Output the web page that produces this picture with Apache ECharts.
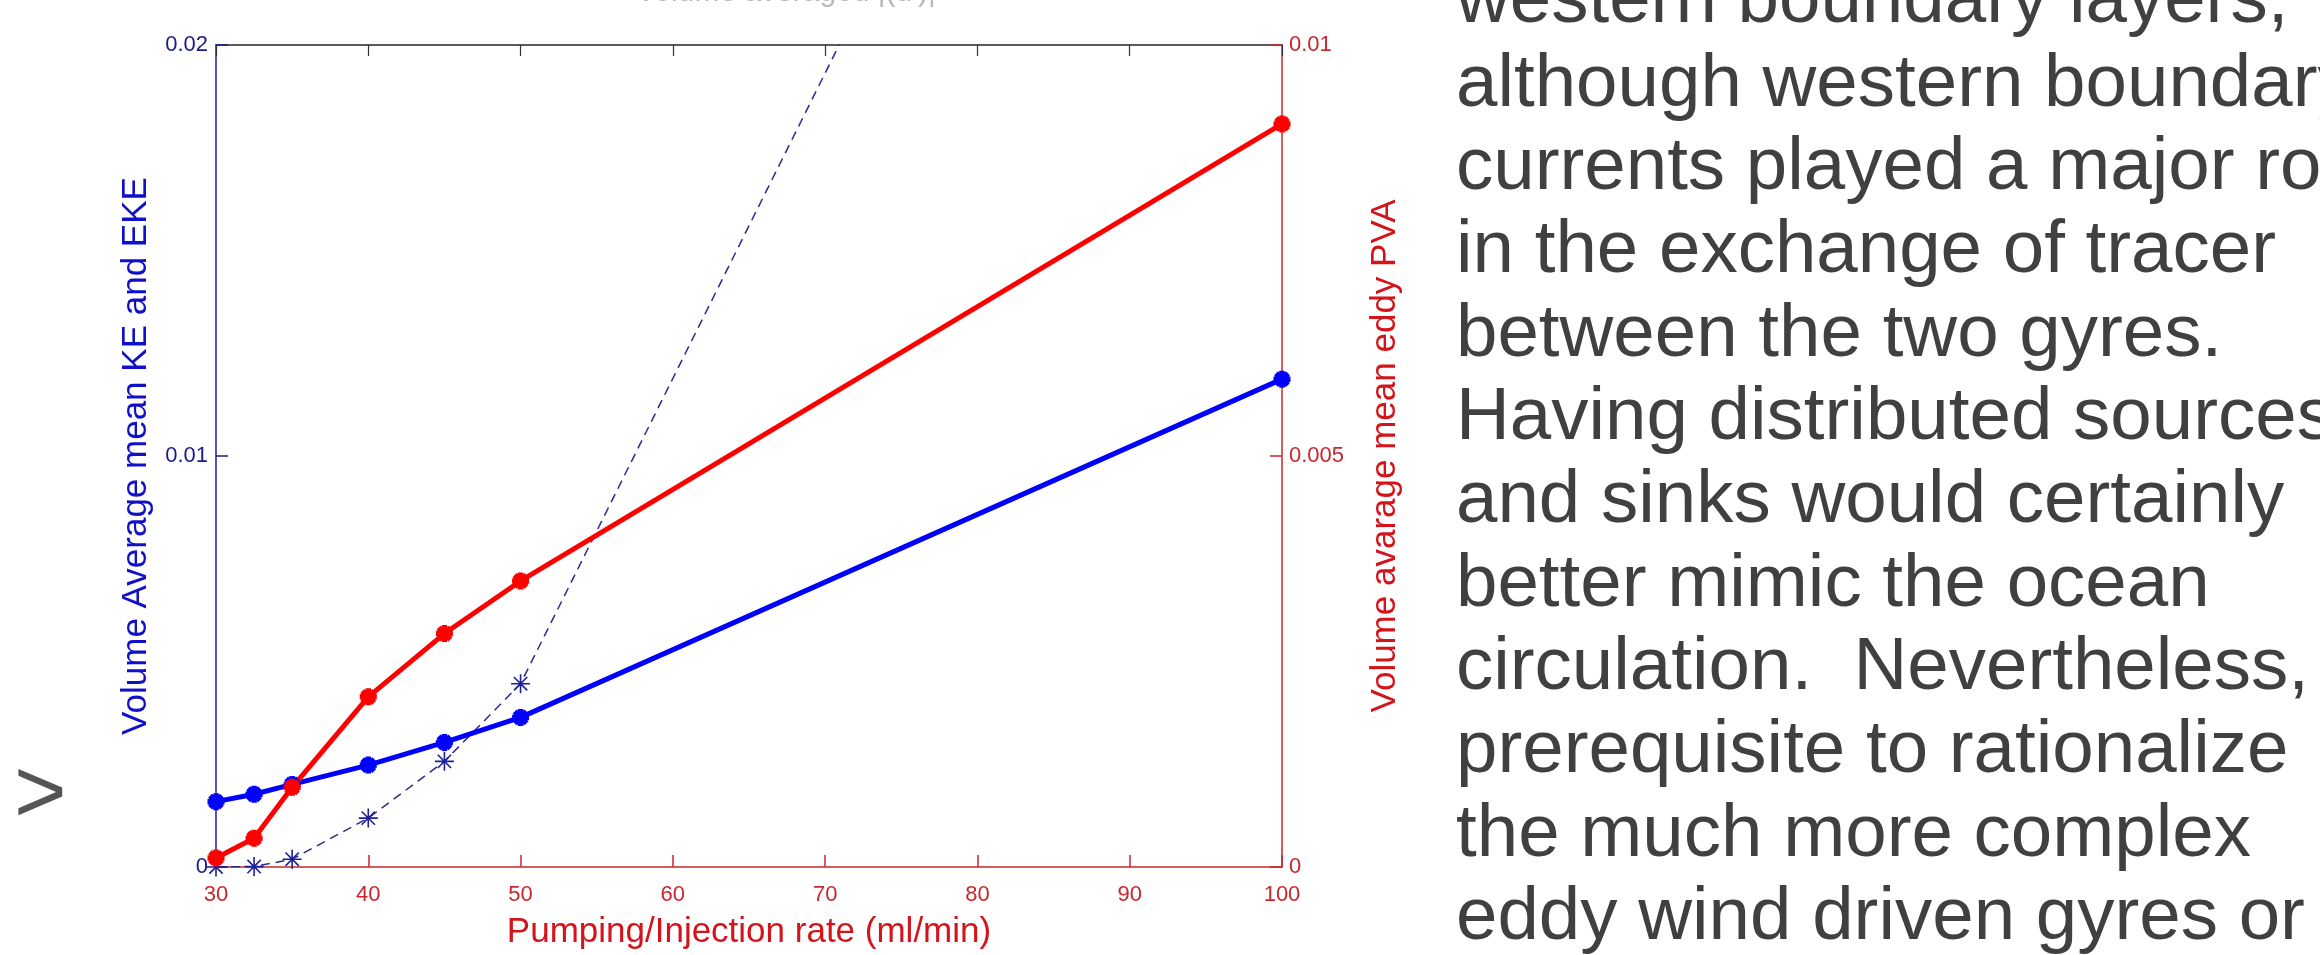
<!DOCTYPE html>
<html>
<head>
<meta charset="utf-8">
<script src="https://cdn.jsdelivr.net/npm/echarts@6/dist/echarts.min.js"></script>
<style>
  html, body { margin: 0; padding: 0; background: #ffffff; }
  #chart { width: 2320px; height: 955px; }
</style>
</head>
<body>
<div id="chart"></div>
<script>
// pumping / injection rate (ml/min)
const rates = [30, 32.5, 35, 40, 45, 50, 100];
// volume average mean KE (left axis, thick blue)
const meanKE = [0.00159, 0.00177, 0.00201, 0.00248, 0.00303, 0.00364, 0.01187];
// volume average EKE (left axis, thin dashed)
const eddyKE = [0.0, 0.00001, 0.00019, 0.00119, 0.00257, 0.00446, 0.0416];
// volume avarage mean eddy PVA (right axis, thick red)
const eddyPVA = [0.00011, 0.00035, 0.00097, 0.00207, 0.00284, 0.00348, 0.00904];

// tick labels
const xTicks = [30, 40, 50, 60, 70, 80, 90, 100];
const leftTicks = [0, 0.01, 0.02];
const rightTicks = [0, 0.005, 0.01];

const paragraph = [
  "western boundary layers,",
  "although western boundary",
  "currents played a major role",
  "in the exchange of tracer",
  "between the two gyres.",
  "Having distributed sources",
  "and sinks would certainly",
  "better mimic the ocean",
  "circulation.  Nevertheless,",
  "prerequisite to rationalize",
  "the much more complex",
  "eddy wind driven gyres or"
];

const BLUE = "#0000ff";
const RED = "#ff0000";
const NAVY = "#1a1a8c";
const AXRED = "#c8282d";
const FONT = "'Liberation Sans', Arial, sans-serif";
// MATLAB style '*' marker
const STAR = "path://M10 0L10 20M0 10L20 10M3 3L17 17M3 17L17 3";

function pairs(ys) {
  return rates.map((x, i) => [x, ys[i]]);
}

let myChart = echarts.init(document.getElementById("chart"));

myChart.setOption({
  backgroundColor: "#ffffff",
  animation: false,
  grid: { left: 216, top: 45, width: 1066, height: 823, containLabel: false },
  xAxis: [
    {
      type: "value",
      position: "bottom",
      min: xTicks[0],
      max: xTicks[xTicks.length - 1],
      interval: xTicks[1] - xTicks[0],
      name: "Pumping/Injection rate (ml/min)",
      nameLocation: "middle",
      nameGap: 48,
      nameTextStyle: { color: "#d4141a", fontSize: 35, fontFamily: FONT },
      axisLine: { onZero: false, lineStyle: { color: AXRED, width: 1.5 } },
      axisTick: { inside: true, length: 12, lineStyle: { color: AXRED, width: 1.5 } },
      axisLabel: { color: AXRED, fontSize: 22, fontFamily: FONT, margin: 17 },
      splitLine: { show: false }
    },
    {
      type: "value",
      position: "top",
      min: xTicks[0],
      max: xTicks[xTicks.length - 1],
      interval: xTicks[1] - xTicks[0],
      axisLine: { onZero: false, lineStyle: { color: "#5a5a5a", width: 2 } },
      axisTick: { inside: true, length: 11, lineStyle: { color: "#333333", width: 1.2 } },
      axisLabel: { show: false },
      splitLine: { show: false }
    }
  ],
  yAxis: [
    {
      type: "value",
      position: "left",
      min: leftTicks[0],
      max: leftTicks[leftTicks.length - 1],
      interval: leftTicks[1] - leftTicks[0],
      name: "Volume Average mean KE and EKE",
      nameLocation: "middle",
      nameGap: 62,
      nameTextStyle: { color: "#1010c8", fontSize: 35, fontFamily: FONT },
      axisLine: { onZero: false, lineStyle: { color: "#2020a0", width: 1.5 } },
      axisTick: { inside: true, length: 12, lineStyle: { color: NAVY, width: 1.5 } },
      axisLabel: { color: NAVY, fontSize: 22, fontFamily: FONT, margin: 8 },
      splitLine: { show: false }
    },
    {
      type: "value",
      position: "right",
      min: rightTicks[0],
      max: rightTicks[rightTicks.length - 1],
      interval: rightTicks[1] - rightTicks[0],
      name: "Volume avarage mean eddy PVA",
      nameLocation: "middle",
      nameGap: 86,
      nameTextStyle: { color: "#d4141a", fontSize: 35, fontFamily: FONT },
      axisLine: { onZero: false, lineStyle: { color: AXRED, width: 1.5 } },
      axisTick: { inside: true, length: 12, lineStyle: { color: AXRED, width: 1.5 } },
      axisLabel: { color: AXRED, fontSize: 22, fontFamily: FONT, margin: 7 },
      splitLine: { show: false }
    }
  ],
  series: [
    {
      name: "EKE",
      type: "line",
      yAxisIndex: 0,
      data: pairs(eddyKE),
      clip: true,
      symbol: STAR,
      symbolSize: 19,
      lineStyle: { color: "#2a2a90", width: 1.5, type: [9, 6] },
      itemStyle: { color: "#1f1f9a", borderColor: "#1f1f9a", borderWidth: 1.6 }
    },
    {
      name: "mean KE",
      type: "line",
      yAxisIndex: 0,
      data: pairs(meanKE),
      clip: true,
      symbol: STAR,
      symbolSize: 17,
      lineStyle: { color: BLUE, width: 5 },
      itemStyle: { color: BLUE, borderColor: BLUE, borderWidth: 5.5 }
    },
    {
      name: "eddy PVA",
      type: "line",
      yAxisIndex: 1,
      data: pairs(eddyPVA),
      clip: true,
      symbol: STAR,
      symbolSize: 17,
      lineStyle: { color: RED, width: 5 },
      itemStyle: { color: RED, borderColor: RED, borderWidth: 5.5 }
    }
  ],
  graphic: [
    {
      // title of the figure, mostly cut off at the top
      type: "text",
      left: 636,
      top: -22,
      style: {
        text: "Volume averaged |(u')|",
        fill: "#b8b8b8",
        font: "30px " + FONT
      }
    },
    {
      type: "text",
      left: 14,
      top: 752,
      style: {
        text: ">",
        fill: "#555555",
        font: "90px " + FONT
      }
    },
    {
      type: "text",
      x: 1456,
      y: -40,
      style: {
        text: paragraph.join("\n"),
        fill: "#404040",
        font: "74.5px " + FONT,
        lineHeight: 83.33,
        verticalAlign: "top"
      }
    }
  ]
});
</script>
</body>
</html>
